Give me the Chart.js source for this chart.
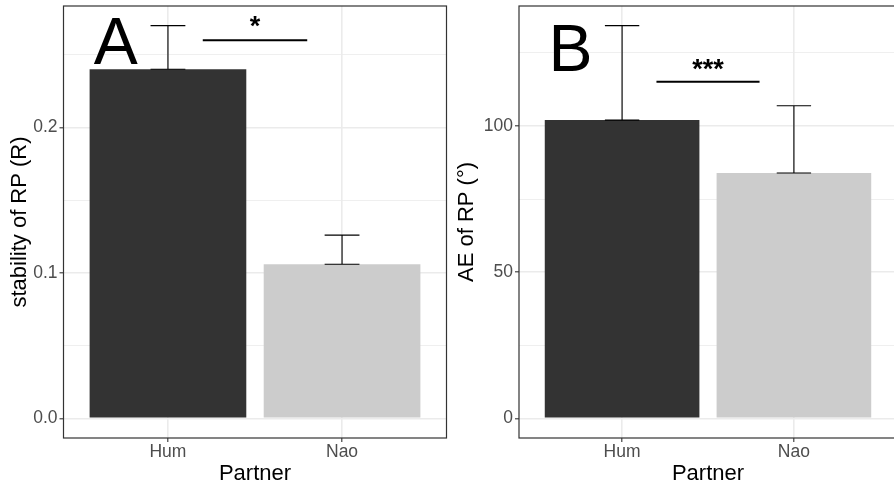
<!DOCTYPE html>
<html>
<head>
<meta charset="utf-8">
<script src="https://cdn.jsdelivr.net/npm/chart.js@4.4.1/dist/chart.umd.min.js"></script>
<style>
html,body{margin:0;padding:0;background:#fff;}
#wrap{position:relative;width:894px;height:485px;overflow:hidden;background:#fff;}
#c1{position:absolute;left:0;top:0;}
#c2{position:absolute;left:447px;top:0;}
</style>
</head>
<body>
<div id="wrap">
  <canvas id="c1" width="448" height="485" style="width:448px;height:485px"></canvas>
  <canvas id="c2" width="460" height="485" style="width:460px;height:485px"></canvas>
</div>
<script>
// ---------- data ----------
const categories = ['Hum', 'Nao'];

const stabilityMean  = [0.240, 0.106];
const stabilityUpper = [0.270, 0.126];
const stabilityMajorTicks = [0, 0.1, 0.2];
const stabilityMinorTicks = [0.05, 0.15, 0.25];
const stabilityTickLabels = ['0.0', '0.1', '0.2'];

const aeMean  = [102.0, 83.9];
const aeUpper = [134.3, 106.9];
const aeMajorTicks = [0, 50, 100];
const aeMinorTicks = [25, 75, 125];
const aeTickLabels = ['0', '50', '100'];

const panelLetters = ['A', 'B'];
const letterX = [-0.3, -0.3];
const letterY = [0.2438, 118.8];

const sigLabels = ['*', '***'];
const sigFromX = [0.2, 0.2];
const sigToX   = [0.8, 0.8];
const sigLineY = [0.26, 115.1];
const sigTextY = [0.2637, 116.5];

const yTitles = ['stability of RP (R)', 'AE of RP (°)'];
const xTitle = 'Partner';

// ---------- style ----------
const FONT = "'Liberation Sans', Arial, Helvetica, sans-serif";
const BAR_COLORS = ['#333333', '#cccccc'];
const GRID = '#ebebeb';
const ERR_WIDTH = 0.2;

function makePanel(canvasId, idx, mean, upper, majors, minors, labels, yAxisWidth, padRight) {
  const top = Math.max(...upper);
  const yMin = -0.05 * top, yMax = top * 1.05;
  const allTicks = majors.concat(minors).sort((a, b) => a - b);
  const isMajor = v => majors.some(m => Math.abs(m - v) < 1e-9);
  const labelFor = v => { const k = majors.findIndex(m => Math.abs(m - v) < 1e-9); return k >= 0 ? labels[k] : ''; };

  const overlay = {
    id: 'overlay' + idx,
    afterDatasetsDraw(chart) {
      const { ctx, scales: { x, y }, chartArea: a } = chart;
      ctx.save();
      // error bars (upper only)
      ctx.strokeStyle = '#000';
      ctx.lineWidth = 1.1;
      mean.forEach((m, i) => {
        const xc = x.getPixelForValue(i);
        const xl = x.getPixelForValue(i - ERR_WIDTH / 2);
        const xr = x.getPixelForValue(i + ERR_WIDTH / 2);
        const y0 = y.getPixelForValue(m), y1 = y.getPixelForValue(upper[i]);
        ctx.beginPath();
        ctx.moveTo(xc, y0); ctx.lineTo(xc, y1);
        ctx.moveTo(xl, y0); ctx.lineTo(xr, y0);
        ctx.moveTo(xl, y1); ctx.lineTo(xr, y1);
        ctx.stroke();
      });
      // significance line
      ctx.lineWidth = 2;
      ctx.beginPath();
      ctx.moveTo(x.getPixelForValue(sigFromX[idx]), y.getPixelForValue(sigLineY[idx]));
      ctx.lineTo(x.getPixelForValue(sigToX[idx]), y.getPixelForValue(sigLineY[idx]));
      ctx.stroke();
      // stars
      ctx.fillStyle = '#000';
      ctx.textAlign = 'center';
      ctx.textBaseline = 'alphabetic';
      ctx.font = 'bold 27px ' + FONT;
      ctx.fillText(sigLabels[idx], x.getPixelForValue((sigFromX[idx] + sigToX[idx]) / 2), y.getPixelForValue(sigTextY[idx]));
      // panel letter
      ctx.font = '66px ' + FONT;
      ctx.fillText(panelLetters[idx], x.getPixelForValue(letterX[idx]), y.getPixelForValue(letterY[idx]));
      // panel border
      ctx.strokeStyle = '#333333';
      ctx.lineWidth = 1.2;
      ctx.strokeRect(a.left, a.top, a.right - a.left, a.bottom - a.top);
      ctx.restore();
    }
  };

  return new Chart(document.getElementById(canvasId), {
    type: 'bar',
    data: {
      datasets: [{
        data: mean.map((v, i) => ({ x: i, y: v })),
        backgroundColor: BAR_COLORS,
        borderWidth: 0,
        categoryPercentage: 0.9,
        barPercentage: 1.0
      }]
    },
    options: {
      responsive: false,
      animation: false,
      events: [],
      layout: { padding: { top: 6, right: padRight, bottom: 0, left: 0 } },
      plugins: { legend: { display: false }, tooltip: { enabled: false } },
      scales: {
        x: {
          type: 'linear',
          offset: false,
          min: -0.6, max: 1.6,
          afterBuildTicks: s => { s.ticks = categories.map((c, i) => ({ value: i })); },
          afterFit: s => { s.height = 47; s.paddingLeft = 0; s.paddingRight = 0; },
          grid: { offset: false, color: GRID, lineWidth: 1.6, tickColor: '#333333', tickLength: 4, tickWidth: 1.1 },
          border: { display: false },
          ticks: {
            autoSkip: false, maxRotation: 0, padding: 0,
            color: '#4d4d4d', font: { family: FONT, size: 17.5 },
            callback: v => categories[Math.round(v)]
          },
          title: { display: true, text: xTitle, color: '#000', font: { family: FONT, size: 22 }, padding: { top: 0, bottom: -2 } }
        },
        y: {
          type: 'linear',
          min: yMin, max: yMax,
          afterBuildTicks: s => { s.ticks = allTicks.map(v => ({ value: v })); },
          afterFit: s => { s.width = yAxisWidth; s.paddingTop = 0; s.paddingBottom = 0; },
          grid: {
            color: GRID,
            lineWidth: c => isMajor(c.tick.value) ? 1.6 : 0.8,
            tickColor: c => isMajor(c.tick.value) ? '#333333' : 'rgba(0,0,0,0)',
            tickLength: 4, tickWidth: 1.1
          },
          border: { display: false },
          ticks: {
            padding: 2,
            color: '#4d4d4d', font: { family: FONT, size: 17.5 },
            callback: v => labelFor(v)
          },
          title: { display: true, text: yTitles[idx], color: '#000', font: { family: FONT, size: 22 }, padding: { top: 7, bottom: 0 } }
        }
      }
    },
    plugins: [overlay]
  });
}

makePanel('c1', 0, stabilityMean, stabilityUpper, stabilityMajorTicks, stabilityMinorTicks, stabilityTickLabels, 63.5, 1.5);
makePanel('c2', 1, aeMean, aeUpper, aeMajorTicks, aeMinorTicks, aeTickLabels, 72, 10);
</script>
</body>
</html>
